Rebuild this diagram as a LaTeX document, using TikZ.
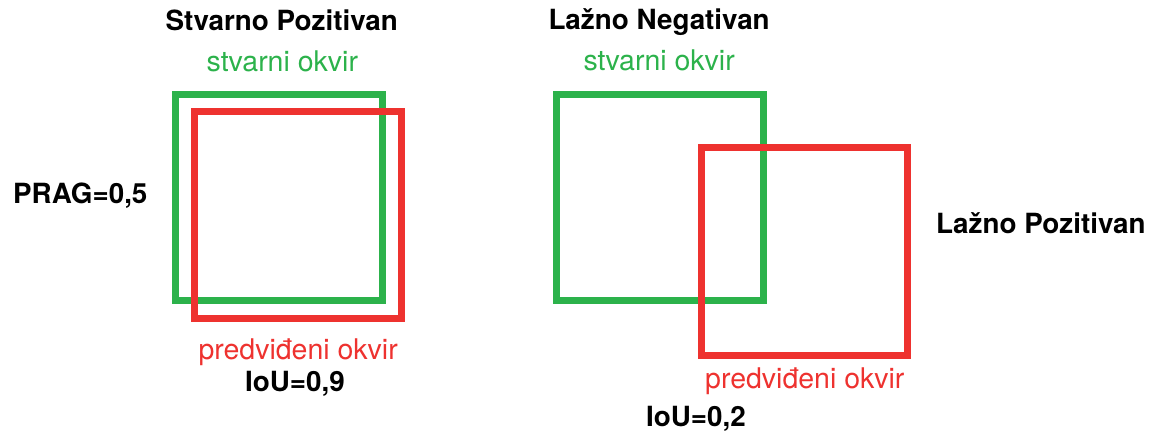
\documentclass[tikz,border=0pt]{standalone}
\usepackage{fontspec}
\setmainfont{TeX Gyre Heros}
\definecolor{gtgreen}{RGB}{44,178,75}
\definecolor{predred}{RGB}{238,50,47}
\tikzset{
  gtbox/.style={draw=gtgreen, line width=7pt},
  predbox/.style={draw=predred, line width=7pt},
  title/.style={anchor=base west, inner sep=0pt, font=\fontsize{27.8}{30}\selectfont\bfseries, text=black},
  gtlabel/.style={anchor=base west, inner sep=0pt, font=\fontsize{28.5}{30}\selectfont, text=gtgreen},
  predlabel/.style={anchor=base west, inner sep=0pt, font=\fontsize{28.5}{30}\selectfont, text=predred}
}
\begin{document}
\begin{tikzpicture}[x=1pt,y=-1pt]
\useasboundingbox (0,0) rectangle (1157,434);
% left pair
\draw[gtbox] (175,94) rectangle (382,300.5);
\draw[predbox] (194.5,111.7) rectangle (401.5,318);
% right pair
\draw[gtbox] (556,94) rectangle (763,300.5);
\draw[predbox] (701,147.5) rectangle (907,355);
% texts
\node[title] (tp) at (165.5,30.7) {Stvarno Pozitivan};
\node[gtlabel] (gt1) at (206.5,71.7) {stvarni okvir};
\node[title] (fn) at (548.3,29.8) {Lažno Negativan};
\node[gtlabel] (gt2) at (583.3,70.7) {stvarni okvir};
\node[title] (th) at (13,203.3) {PRAG=0,5};
\node[title] (fp) at (936,233) {Lažno Pozitivan};
\node[predlabel] (pr1) at (198.3,359.3) {predviđeni okvir};
\node[title] (iou1) at (245,391.7) {IoU=0,9};
\node[predlabel] (pr2) at (705,388.3) {predviđeni okvir};
\node[title] (iou2) at (646,426.7) {IoU=0,2};
\end{tikzpicture}
\end{document}
